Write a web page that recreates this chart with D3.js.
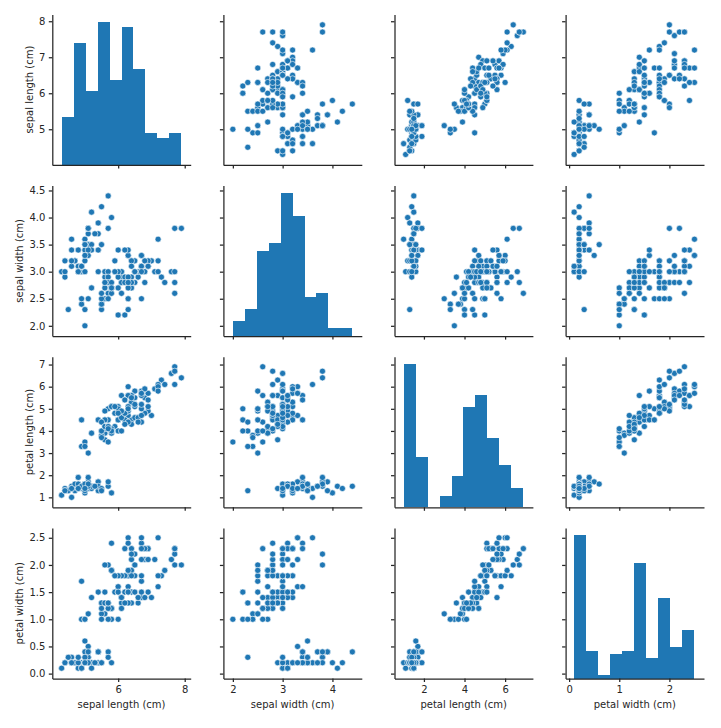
<!DOCTYPE html>
<html>
<head>
<meta charset="utf-8">
<script src="https://cdnjs.cloudflare.com/ajax/libs/d3/7.8.5/d3.min.js"></script>
<style>
    html, body { margin: 0; padding: 0; background: #fff; }
    svg { display: block; }
    text { font-family: "DejaVu Sans", sans-serif; fill: #262626; }
</style>
</head>
<body>
<svg id="chart" width="721" height="728"></svg>
<script>
// iris measurements, one array per variable
const sepalLength = [
    5.1,4.9,4.7,4.6,5.0,5.4,4.6,5.0,4.4,4.9,5.4,4.8,4.8,4.3,5.8,5.7,5.4,5.1,5.7,5.1,5.4,5.1,4.6,5.1,4.8,5.0,5.0,5.2,5.2,4.7,4.8,5.4,5.2,5.5,4.9,5.0,5.5,4.9,4.4,5.1,5.0,4.5,4.4,5.0,5.1,4.8,5.1,4.6,5.3,5.0,
    7.0,6.4,6.9,5.5,6.5,5.7,6.3,4.9,6.6,5.2,5.0,5.9,6.0,6.1,5.6,6.7,5.6,5.8,6.2,5.6,5.9,6.1,6.3,6.1,6.4,6.6,6.8,6.7,6.0,5.7,5.5,5.5,5.8,6.0,5.4,6.0,6.7,6.3,5.6,5.5,5.5,6.1,5.8,5.0,5.6,5.7,5.7,6.2,5.1,5.7,
    6.3,5.8,7.1,6.3,6.5,7.6,4.9,7.3,6.7,7.2,6.5,6.4,6.8,5.7,5.8,6.4,6.5,7.7,7.7,6.0,6.9,5.6,7.7,6.3,6.7,7.2,6.2,6.1,6.4,7.2,7.4,7.9,6.4,6.3,6.1,7.7,6.3,6.4,6.0,6.9,6.7,6.9,5.8,6.8,6.7,6.7,6.3,6.5,6.2,5.9
];
const sepalWidth = [
    3.5,3.0,3.2,3.1,3.6,3.9,3.4,3.4,2.9,3.1,3.7,3.4,3.0,3.0,4.0,4.4,3.9,3.5,3.8,3.8,3.4,3.7,3.6,3.3,3.4,3.0,3.4,3.5,3.4,3.2,3.1,3.4,4.1,4.2,3.1,3.2,3.5,3.1,3.0,3.4,3.5,2.3,3.2,3.5,3.8,3.0,3.8,3.2,3.7,3.3,
    3.2,3.2,3.1,2.3,2.8,2.8,3.3,2.4,2.9,2.7,2.0,3.0,2.2,2.9,2.9,3.1,3.0,2.7,2.2,2.5,3.2,2.8,2.5,2.8,2.9,3.0,2.8,3.0,2.9,2.6,2.4,2.4,2.7,2.7,3.0,3.4,3.1,2.3,3.0,2.5,2.6,3.0,2.6,2.3,2.7,3.0,2.9,2.9,2.5,2.8,
    3.3,2.7,3.0,2.9,3.0,3.0,2.5,2.9,2.5,3.6,3.2,2.7,3.0,2.5,2.8,3.2,3.0,3.8,2.6,2.2,3.2,2.8,2.8,2.7,3.3,3.2,2.8,3.0,2.8,3.0,2.8,3.8,2.8,2.8,2.6,3.0,3.4,3.1,3.0,3.1,3.1,3.1,2.7,3.2,3.3,3.0,2.5,3.0,3.4,3.0
];
const petalLength = [
    1.4,1.4,1.3,1.5,1.4,1.7,1.4,1.5,1.4,1.5,1.5,1.6,1.4,1.1,1.2,1.5,1.3,1.4,1.7,1.5,1.7,1.5,1.0,1.7,1.9,1.6,1.6,1.5,1.4,1.6,1.6,1.5,1.5,1.4,1.5,1.2,1.3,1.5,1.3,1.5,1.3,1.3,1.3,1.6,1.9,1.4,1.6,1.4,1.5,1.4,
    4.7,4.5,4.9,4.0,4.6,4.5,4.7,3.3,4.6,3.9,3.5,4.2,4.0,4.7,3.6,4.4,4.5,4.1,4.5,3.9,4.8,4.0,4.9,4.7,4.3,4.4,4.8,5.0,4.5,3.5,3.8,3.7,3.9,5.1,4.5,4.5,4.7,4.4,4.1,4.0,4.4,4.6,4.0,3.3,4.2,4.2,4.2,4.3,3.0,4.1,
    6.0,5.1,5.9,5.6,5.8,6.6,4.5,6.3,5.8,6.1,5.1,5.3,5.5,5.0,5.1,5.3,5.5,6.7,6.9,5.0,5.7,4.9,6.7,4.9,5.7,6.0,4.8,4.9,5.6,5.8,6.1,6.4,5.6,5.1,5.6,6.1,5.6,5.5,4.8,5.4,5.6,5.1,5.1,5.9,5.7,5.2,5.0,5.2,5.4,5.1
];
const petalWidth = [
    0.2,0.2,0.2,0.2,0.2,0.4,0.3,0.2,0.2,0.1,0.2,0.2,0.1,0.1,0.2,0.4,0.4,0.3,0.3,0.3,0.2,0.4,0.2,0.5,0.2,0.2,0.4,0.2,0.2,0.2,0.2,0.4,0.1,0.2,0.1,0.2,0.2,0.1,0.2,0.2,0.3,0.3,0.2,0.6,0.4,0.3,0.2,0.2,0.2,0.2,
    1.4,1.5,1.5,1.3,1.5,1.3,1.6,1.0,1.3,1.4,1.0,1.5,1.0,1.4,1.3,1.4,1.5,1.0,1.5,1.1,1.8,1.3,1.5,1.2,1.3,1.4,1.4,1.7,1.5,1.0,1.1,1.0,1.2,1.6,1.5,1.6,1.5,1.3,1.3,1.3,1.2,1.4,1.2,1.0,1.3,1.2,1.3,1.3,1.1,1.3,
    2.5,1.9,2.1,1.8,2.2,2.1,1.7,1.8,1.8,2.5,2.0,1.9,2.1,2.0,2.4,2.3,1.8,2.2,2.3,1.5,2.3,2.0,2.0,1.8,2.1,1.8,1.8,1.8,2.1,1.6,1.9,2.0,2.2,1.5,1.4,2.3,2.4,1.8,1.8,2.1,2.4,2.3,1.9,2.3,2.5,2.3,1.9,2.0,2.3,1.8
];

// histogram counts on the diagonal (10 equal bins)
const sepalLengthCounts = [9, 23, 14, 27, 16, 26, 18, 6, 5, 6];
const sepalWidthCounts = [4, 7, 22, 24, 37, 31, 10, 11, 2, 2];
const petalLengthCounts = [37, 13, 0, 3, 8, 26, 29, 18, 11, 5];
const petalWidthCounts = [41, 8, 1, 7, 8, 33, 6, 23, 9, 14];

const labels = ["sepal length (cm)", "sepal width (cm)", "petal length (cm)", "petal width (cm)"];
const columns = [sepalLength, sepalWidth, petalLength, petalWidth];
const counts = [sepalLengthCounts, sepalWidthCounts, petalLengthCounts, petalWidthCounts];

// axis limits and ticks per variable
const xDomains = [[4.02, 8.18], [1.81, 4.59], [0.55, 7.37], [-0.07, 2.69]];
const yDomains = [[4.01, 8.19], [1.81, 4.59], [0.55, 7.35], [-0.09, 2.68]];
const xTicks = [[6, 8], [2, 3, 4], [2, 4, 6], [0, 1, 2]];
const yTicks = [[5, 6, 7, 8], [2, 2.5, 3, 3.5, 4, 4.5], [1, 2, 3, 4, 5, 6, 7], [0, 0.5, 1, 1.5, 2, 2.5]];
const yFormats = ["d", ".1f", "d", ".1f"];

const cellW = 138.4, cellH = 150.5;
const stepX = 171.1, stepY = 171.2;
const left = 52.3, top_ = 14.4;
const ylabelOffset = [-23, -32.5, -23, -32.5];
const blue = "#1f77b4";
const dark = "#262626";

const svg = d3.select("#chart");

function drawCell(row, col) {
    const g = svg.append("g")
        .attr("transform", `translate(${left + col * stepX},${top_ + row * stepY})`);

    const x = d3.scaleLinear().domain(xDomains[col]).range([0, cellW]);
    const y = d3.scaleLinear().domain(yDomains[row]).range([cellH, 0]);

    if (row === col) {
        // hist: bins run from min to max of the variable
        const lo = d3.min(columns[col]), hi = d3.max(columns[col]);
        const binW = (hi - lo) / counts[col].length;
        const yCount = d3.scaleLinear()
            .domain([0, d3.max(counts[col]) * 1.05])
            .range([cellH, 0]);

        g.selectAll("rect")
            .data(counts[col])
            .enter().append("rect")
            .attr("x", (d, i) => x(lo + i * binW))
            .attr("width", x(lo + binW) - x(lo))
            .attr("y", d => yCount(d))
            .attr("height", d => cellH - yCount(d))
            .attr("fill", blue)
            .attr("shape-rendering", "crispEdges");
    } else {
        g.selectAll("circle")
            .data(columns[col].map((v, i) => [v, columns[row][i]]))
            .enter().append("circle")
            .attr("cx", d => x(d[0]))
            .attr("cy", d => y(d[1]))
            .attr("r", 3.05)
            .attr("fill", blue)
            .attr("stroke", "#fff")
            .attr("stroke-width", 0.6);
    }

    const xAxis = d3.axisBottom(x).tickValues(xTicks[col]).tickSize(3.5).tickSizeOuter(0).tickPadding(3.5)
        .tickFormat(row === 3 ? d3.format("d") : "");
    const yAxis = d3.axisLeft(y).tickValues(yTicks[row]).tickSize(3.5).tickSizeOuter(0).tickPadding(3.5)
        .tickFormat(col === 0 ? d3.format(yFormats[row]) : "");

    [g.append("g").attr("transform", `translate(0,${cellH})`).call(xAxis),
     g.append("g").call(yAxis)].forEach(a => {
        a.selectAll("path, line").attr("stroke", dark).attr("stroke-width", 1.25);
        a.selectAll("text").style("font-size", "10px").style("font-family", null).attr("fill", dark);
    });

    if (row === 3) {
        g.append("text")
            .attr("x", cellW / 2)
            .attr("y", cellH + 29)
            .attr("text-anchor", "middle")
            .style("font-size", "10px")
            .text(labels[col]);
    }
    if (col === 0) {
        g.append("text")
            .attr("transform", `translate(${ylabelOffset[row]},${cellH / 2}) rotate(-90)`)
            .attr("y", 3.5)
            .attr("text-anchor", "middle")
            .style("font-size", "10px")
            .text(labels[row]);
    }
}

d3.range(4).forEach(row => d3.range(4).forEach(col => drawCell(row, col)));
</script>
</body>
</html>
